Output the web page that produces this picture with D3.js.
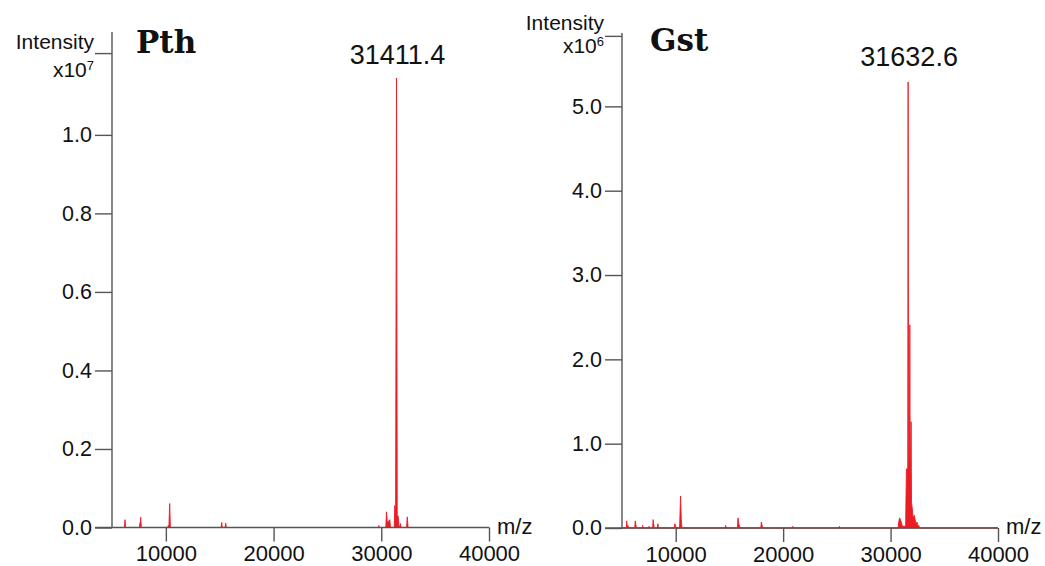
<!DOCTYPE html>
<html lang="en">
<head>
    <meta charset="UTF-8">
    <title>Pth / Gst mass spectra</title>
    <script src="https://d3js.org/d3.v7.min.js"></script>
    <style>
        body { margin: 0; background: #fff; }
        text {
            font-family: "Liberation Sans", Arial, sans-serif;
            fill: #111;
        }
        .axis line, .axis path, .frame { stroke: #555; stroke-width: 1.4; fill: none; }
        .axis text { font-size: 21.5px; }
        .title { font-family: "DejaVu Serif", serif; font-weight: bold; font-size: 31px; }
    </style>
</head>
<body>
<script>
    const width = 1045;
    const height = 566;

    // Pth spectrum (intensity x10^7)
    const pthMz  = [5000, 6150, 6207, 6260, 7560, 7600, 7630, 7665, 7720, 10180, 10220, 10280, 10357, 10420,
                    15130, 15186, 15240, 15500, 15557, 15610, 29720, 29767, 29820, 30420, 30482, 30560,
                    30790, 30860, 31200, 31253, 31330, 31411, 31480, 31560, 31640, 31720, 31783, 31840,
                    32340, 32414, 32490, 40000];
    const pthInt = [0, 0, 0.02, 0, 0, 0.012, 0, 0.026, 0, 0, 0.005, 0, 0.061, 0,
                    0, 0.013, 0, 0, 0.011, 0, 0, 0.005, 0, 0, 0.04, 0.012,
                    0.02, 0, 0, 0.056, 0.03, 1.145, 0.03, 0.03, 0.005, 0, 0.01, 0,
                    0, 0.027, 0, 0];

    // Gst spectrum (intensity x10^6)
    const gstMz  = [5000, 5400, 5436, 5480, 5560, 5620, 6180, 6235, 6290, 6340, 6880, 6920, 6960,
                    7480, 7520, 7560, 7850, 7900, 7950, 8000, 8300, 8340, 8390, 9870, 9920, 9990, 10080,
                    10360, 10450, 10520, 10580, 14600, 14650, 14700, 15740, 15800, 15870, 15930, 15990,
                    17920, 17970, 18030, 18080, 20850, 20900, 20950, 25190, 25240, 25290,
                    30700, 30767, 30833, 30916, 31020, 31100, 31400, 31475, 31600, 31632.6, 31680,
                    31760, 31790, 31830, 31911, 31950, 32005, 32100, 32220, 32350, 32470, 32560, 32630,
                    32700, 40000];
    const gstInt = [0, 0, 0.085, 0.02, 0.03, 0, 0, 0.085, 0.04, 0, 0, 0.03, 0,
                    0, 0.02, 0, 0, 0.1, 0.05, 0, 0, 0.05, 0, 0, 0.05, 0.02, 0,
                    0, 0.38, 0.1, 0, 0, 0.03, 0, 0, 0.12, 0.05, 0.03, 0,
                    0, 0.07, 0.04, 0, 0, 0.02, 0, 0, 0.02, 0,
                    0, 0.075, 0.12, 0.1, 0.06, 0.02, 0.02, 0.7, 0.71, 5.29, 0.72,
                    0.9, 2.41, 0.5, 1.26, 0.3, 0.25, 0.12, 0.15, 0.05, 0.07, 0.02, 0.03,
                    0, 0];

    const xTicks = [10000, 20000, 30000, 40000];
    const pthTicks = [0, 0.2, 0.4, 0.6, 0.8, 1.0];
    const gstTicks = [0, 1, 2, 3, 4, 5];

    const svg = d3.select("body").append("svg")
            .attr("width", width).attr("height", height);

    const panels = [
        {
            name: "Pth", mz: pthMz, intensity: pthInt, yTicks: pthTicks, exp: "7",
            peak: "31411.4", peakMz: 31411.4,
            xRange: [112, 489], yDomain: [0, 1.262], yRange: [527.5, 32],
            underline: 1.207, titleX: 136, titleY: 53,
            labelY: [49, 77], peakLabelY: 64
        },
        {
            name: "Gst", mz: gstMz, intensity: gstInt, yTicks: gstTicks, exp: "6",
            peak: "31632.6", peakMz: 31632.6,
            xRange: [622, 998], yDomain: [0, 5.87], yRange: [528, 33],
            underline: 5.83, titleX: 650, titleY: 51,
            labelY: [30, 53], peakLabelY: 66
        }
    ];

    panels.forEach(drawPanel);

    function drawPanel(p) {
        const x = d3.scaleLinear().domain([5000, 40000]).range(p.xRange);
        const y = d3.scaleLinear().domain(p.yDomain).range(p.yRange);
        const g = svg.append("g");
        const x0 = x(5000);
        const tick = 17;

        // spectrum
        const pts = p.mz.map((m, i) => [m, p.intensity[i]]);
        g.append("path")
                .datum(pts)
                .attr("d", d3.area().x(d => x(d[0])).y0(y(0)).y1(d => y(d[1])))
                .style("fill", "#ec1c24")
                .style("stroke", "#ec1c24")
                .style("stroke-width", 0.9)
                .style("stroke-linejoin", "round");

        // y axis
        const yAxis = g.append("g").attr("class", "axis")
                .attr("transform", `translate(${x0},0)`)
                .call(d3.axisLeft(y).tickValues(p.yTicks).tickSize(tick).tickPadding(3)
                        .tickFormat(d3.format(".1f")));
        yAxis.select(".domain").remove();
        g.append("line").attr("class", "frame")
                .attr("x1", x0).attr("x2", x0)
                .attr("y1", p.yRange[1]).attr("y2", y(0));
        g.append("line").attr("class", "frame")
                .attr("x1", x0 - tick).attr("x2", x0)
                .attr("y1", y(p.underline)).attr("y2", y(p.underline));

        // x axis
        const xAxis = g.append("g").attr("class", "axis")
                .attr("transform", `translate(0,${y(0)})`)
                .call(d3.axisBottom(x).tickValues(xTicks).tickSize(14).tickPadding(4)
                        .tickFormat(d => d));
        xAxis.select(".domain").remove();
        xAxis.selectAll("text").style("font-size", "22px");
        g.append("line").attr("class", "frame")
                .attr("x1", x0 - tick).attr("x2", x(40000))
                .attr("y1", y(0)).attr("y2", y(0));

        g.append("text")
                .attr("x", x(40000) + 8).attr("y", y(0) + 6)
                .style("font-size", "22px")
                .text("m/z");

        // y label
        g.append("text")
                .attr("x", x0 - tick - 1).attr("y", p.labelY[0])
                .attr("text-anchor", "end")
                .style("font-size", "21px")
                .text("Intensity");
        const ex = g.append("text")
                .attr("x", x0 - tick - 1).attr("y", p.labelY[1])
                .attr("text-anchor", "end")
                .style("font-size", "21px");
        ex.append("tspan").text("x10");
        ex.append("tspan").attr("dy", -7).style("font-size", "13px").text(p.exp);

        // title
        g.append("text").attr("class", "title")
                .attr("x", p.titleX).attr("y", p.titleY)
                .text(p.name);

        // peak label
        g.append("text")
                .attr("x", x(p.peakMz) + 1).attr("y", p.peakLabelY)
                .attr("text-anchor", "middle")
                .style("font-size", "27px")
                .text(p.peak);
    }
</script>
</body>
</html>
